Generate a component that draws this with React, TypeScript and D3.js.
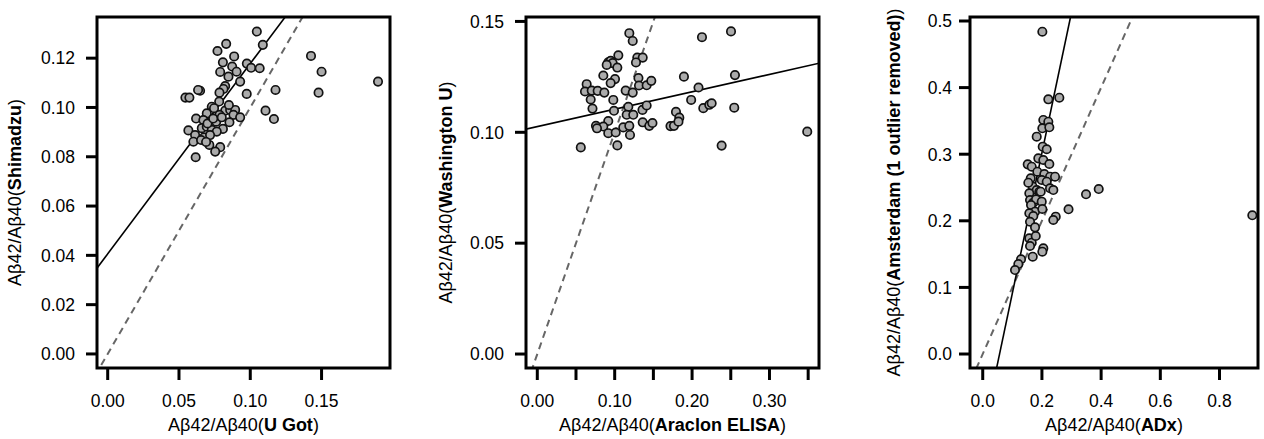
import * as d3 from "d3";

// Panel 1: U Got vs Shimadzu
const uGotX = [0.1046, 0.1088, 0.0831, 0.077, 0.1426, 0.0887, 0.0808, 0.0873, 0.0976, 0.1006, 0.1066, 0.0789, 0.0904, 0.15, 0.0847, 0.0929, 0.1896, 0.0824, 0.0812, 0.0784, 0.1177, 0.0648, 0.0634, 0.1479, 0.0975, 0.0545, 0.0573, 0.0782, 0.073, 0.0746, 0.0824, 0.0859, 0.0894, 0.0882, 0.1107, 0.1166, 0.0695, 0.0784, 0.0929, 0.062, 0.0671, 0.0761, 0.0854, 0.0566, 0.066, 0.0695, 0.073, 0.0808, 0.0765, 0.0613, 0.0676, 0.0718, 0.0601, 0.0655, 0.0713, 0.0789, 0.0754, 0.0617, 0.07, 0.074, 0.085, 0.08, 0.069];
const shimadzuY = [0.1308, 0.1254, 0.1258, 0.1229, 0.1209, 0.1207, 0.1183, 0.1166, 0.1178, 0.1161, 0.1159, 0.1144, 0.1145, 0.1145, 0.1125, 0.1105, 0.1105, 0.1087, 0.1075, 0.106, 0.1071, 0.1068, 0.1071, 0.106, 0.1055, 0.104, 0.104, 0.1024, 0.1003, 0.0997, 0.0987, 0.099, 0.099, 0.097, 0.0987, 0.0953, 0.0976, 0.097, 0.096, 0.0955, 0.0949, 0.0942, 0.094, 0.0907, 0.0916, 0.0922, 0.0909, 0.0913, 0.0902, 0.0888, 0.0879, 0.0888, 0.0861, 0.0868, 0.0848, 0.0839, 0.0821, 0.0798, 0.0935, 0.0955, 0.101, 0.096, 0.086];

// Panel 2: Araclon ELISA vs Washington U
const araclonX = [0.1189, 0.1233, 0.2503, 0.2128, 0.1047, 0.0917, 0.0948, 0.0974, 0.0897, 0.1292, 0.1362, 0.1275, 0.1034, 0.0853, 0.1004, 0.0948, 0.0638, 0.0616, 0.0703, 0.078, 0.0866, 0.069, 0.0713, 0.0982, 0.1142, 0.1233, 0.1307, 0.1314, 0.1413, 0.1473, 0.1176, 0.1155, 0.124, 0.1359, 0.1413, 0.0991, 0.0917, 0.1362, 0.1447, 0.1488, 0.0758, 0.0853, 0.0771, 0.1111, 0.1189, 0.1198, 0.0917, 0.1013, 0.1034, 0.0562, 0.1895, 0.2083, 0.1988, 0.2145, 0.2222, 0.2253, 0.1792, 0.1835, 0.1721, 0.1766, 0.1824, 0.2554, 0.2545, 0.2382, 0.3488];
const washUY = [0.1447, 0.1412, 0.1455, 0.1429, 0.1347, 0.1316, 0.1322, 0.1312, 0.1304, 0.1337, 0.1337, 0.1315, 0.1292, 0.1256, 0.124, 0.1222, 0.1217, 0.1184, 0.1188, 0.1187, 0.1179, 0.1148, 0.1107, 0.1146, 0.1188, 0.1179, 0.1245, 0.1211, 0.1212, 0.1232, 0.1115, 0.1079, 0.1079, 0.1101, 0.1121, 0.1097, 0.1051, 0.1045, 0.1029, 0.1042, 0.1029, 0.1026, 0.1018, 0.1022, 0.1029, 0.0988, 0.0996, 0.0999, 0.0941, 0.0932, 0.1251, 0.1202, 0.1146, 0.1109, 0.1124, 0.1131, 0.1092, 0.1066, 0.1028, 0.1029, 0.1048, 0.1258, 0.1111, 0.094, 0.1003];

// Panel 3: ADx vs Amsterdam
const adxX = [0.2014, 0.2216, 0.2588, 0.2047, 0.2216, 0.2014, 0.225, 0.1824, 0.2027, 0.2162, 0.1878, 0.2047, 0.152, 0.1655, 0.225, 0.1845, 0.2081, 0.2274, 0.2443, 0.1993, 0.1622, 0.1689, 0.1541, 0.2162, 0.1824, 0.1912, 0.2274, 0.2385, 0.1574, 0.1598, 0.1709, 0.1959, 0.1801, 0.1993, 0.1632, 0.1767, 0.2014, 0.1574, 0.1709, 0.2899, 0.2466, 0.2385, 0.1598, 0.1767, 0.1574, 0.1655, 0.1791, 0.1598, 0.2047, 0.2014, 0.1689, 0.1294, 0.1203, 0.1091, 0.349, 0.3919, 0.9108];
const amsterdamY = [0.4839, 0.3824, 0.3848, 0.3514, 0.3488, 0.3389, 0.3404, 0.3263, 0.3113, 0.3074, 0.2938, 0.2913, 0.2848, 0.2812, 0.2853, 0.2737, 0.2703, 0.2662, 0.2662, 0.2613, 0.2638, 0.2512, 0.2572, 0.2587, 0.2462, 0.2437, 0.2488, 0.2462, 0.2413, 0.2312, 0.2272, 0.2437, 0.2323, 0.2287, 0.2237, 0.2137, 0.2177, 0.2113, 0.2072, 0.2173, 0.2062, 0.2012, 0.1986, 0.1902, 0.1737, 0.1671, 0.1772, 0.1622, 0.1587, 0.1536, 0.1461, 0.1422, 0.1351, 0.1261, 0.2398, 0.2477, 0.2083];

// fitted regression lines
const fitIntercepts = [0.0406, 0.1026, -0.12];
const fitSlopes = [0.772, 0.0784, 2.11];

const xTitles = ["U Got", "Araclon ELISA", "ADx"];
const yTitles = ["Shimadzu", "Washington U", "Amsterdam (1 outlier removed)"];

const xTicks = [
  [0, 0.05, 0.1, 0.15],
  [0, 0.05, 0.1, 0.15, 0.2, 0.25, 0.3, 0.35],
  [0, 0.2, 0.4, 0.6, 0.8],
];
const xTickLabels = [
  ["0.00", "0.05", "0.10", "0.15"],
  ["0.00", "", "0.10", "", "0.20", "", "0.30", ""],
  ["0.0", "0.2", "0.4", "0.6", "0.8"],
];
const yTicks = [
  [0, 0.02, 0.04, 0.06, 0.08, 0.1, 0.12],
  [0, 0.05, 0.1, 0.15],
  [0, 0.1, 0.2, 0.3, 0.4, 0.5],
];
const yTickLabels = [
  ["0.00", "0.02", "0.04", "0.06", "0.08", "0.10", "0.12"],
  ["0.00", "0.05", "0.10", "0.15"],
  ["0.0", "0.1", "0.2", "0.3", "0.4", "0.5"],
];

const xs = [uGotX, araclonX, adxX];
const ys = [shimadzuY, washUY, amsterdamY];

const panels = [
  { left: 97, right: 390, xDom: [-0.0075, 0.198], yDom: [-0.0057, 0.1367], labelGap: 11, yTitleX: 21 },
  { left: 526, right: 819, xDom: [-0.0146, 0.364], yDom: [-0.0063, 0.152], labelGap: 11, yTitleX: 452 },
  { left: 970, right: 1258, xDom: [-0.043, 0.93], yDom: [-0.021, 0.506], labelGap: 7, yTitleX: 900 },
];
const top = 17;
const bottom = 368;
const font = "'Liberation Sans', Arial, sans-serif";

function Panel({ i }: { i: number }) {
  const p = panels[i];
  const x = d3.scaleLinear().domain(p.xDom).range([p.left, p.right]);
  const y = d3.scaleLinear().domain(p.yDom).range([bottom, top]);
  const [x0, x1] = p.xDom;
  const fit = d3.line<number>().x((d) => x(d)).y((d) => y(fitIntercepts[i] + fitSlopes[i] * d));
  const ident = d3.line<number>().x((d) => x(d)).y((d) => y(d));
  const clipId = `clip${i}`;
  const cx = (p.left + p.right) / 2;
  const cy = (top + bottom) / 2;
  return (
    <g>
      <defs>
        <clipPath id={clipId}>
          <rect x={p.left} y={top} width={p.right - p.left} height={bottom - top} />
        </clipPath>
      </defs>
      <g clipPath={`url(#${clipId})`}>
        <path d={ident([x0 - 1, x1 + 1]) ?? ""} stroke="#666" strokeWidth={2} strokeDasharray="7,5" fill="none" />
        <path d={fit([x0 - 1, x1 + 1]) ?? ""} stroke="#000" strokeWidth={1.6} fill="none" />
      </g>
      {xs[i].map((v, k) => (
        <circle key={k} cx={x(v)} cy={y(ys[i][k])} r={4.2} fill="#ababab" stroke="#111" strokeWidth={1.7} />
      ))}
      <rect x={p.left} y={top} width={p.right - p.left} height={bottom - top} fill="none" stroke="#000" strokeWidth={3} />
      {xTicks[i].map((t, k) => (
        <g key={k}>
          <line x1={x(t)} x2={x(t)} y1={bottom} y2={bottom + 12} stroke="#000" strokeWidth={3} />
          <text x={x(t)} y={407} textAnchor="middle" fontSize={17.5} fontFamily={font}>{xTickLabels[i][k]}</text>
        </g>
      ))}
      {yTicks[i].map((t, k) => (
        <g key={k}>
          <line x1={p.left - 11} x2={p.left} y1={y(t)} y2={y(t)} stroke="#000" strokeWidth={3} />
          <text x={p.left - 11 - p.labelGap} y={y(t)} dy="0.36em" textAnchor="end" fontSize={17.5} fontFamily={font}>{yTickLabels[i][k]}</text>
        </g>
      ))}
      <text x={cx} y={431} textAnchor="middle" fontSize={18} fontFamily={font}>
        Aβ42/Aβ40(<tspan fontWeight="bold">{xTitles[i]}</tspan>)
      </text>
      <text transform={`translate(${p.yTitleX},${cy}) rotate(-90)`} textAnchor="middle" fontSize={18} fontFamily={font}>
        Aβ42/Aβ40(<tspan fontWeight="bold">{yTitles[i]}</tspan>)
      </text>
    </g>
  );
}

export default function App() {
  return (
    <svg width={1264} height={439} style={{ position: "absolute", left: 0, top: 0, background: "#fff" }}>
      {panels.map((_, i) => (
        <Panel key={i} i={i} />
      ))}
    </svg>
  );
}
